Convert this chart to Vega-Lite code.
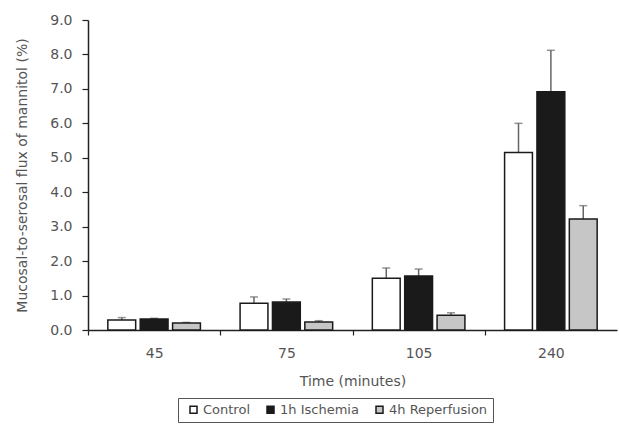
{
  "$schema": "https://vega.github.io/schema/vega-lite/v6.json",
  "width": 529,
  "height": 310,
  "autosize": {"type": "none"},
  "padding": {"left": 88, "top": 20, "right": 2, "bottom": 94},
  "background": "white",
  "config": {
    "view": {"stroke": null},
    "font": "DejaVu Sans",
    "axis": {"labelColor": "#555", "titleColor": "#555", "domainColor": "#222", "tickColor": "#222", "domainWidth": 1.5, "tickWidth": 1.2, "labelFontSize": 14, "titleFontSize": 14, "titleFontWeight": "normal", "grid": false}
  },
  "data": {
    "values": [
      {"time": "45", "group": "Control", "value": 0.29, "upper": 0.36},
      {"time": "45", "group": "1h Ischemia", "value": 0.32, "upper": 0.34},
      {"time": "45", "group": "4h Reperfusion", "value": 0.2, "upper": 0.22},
      {"time": "75", "group": "Control", "value": 0.78, "upper": 0.96},
      {"time": "75", "group": "1h Ischemia", "value": 0.81, "upper": 0.9},
      {"time": "75", "group": "4h Reperfusion", "value": 0.23, "upper": 0.27},
      {"time": "105", "group": "Control", "value": 1.5, "upper": 1.8},
      {"time": "105", "group": "1h Ischemia", "value": 1.57, "upper": 1.77},
      {"time": "105", "group": "4h Reperfusion", "value": 0.43, "upper": 0.5},
      {"time": "240", "group": "Control", "value": 5.15, "upper": 6.0},
      {"time": "240", "group": "1h Ischemia", "value": 6.92, "upper": 8.12},
      {"time": "240", "group": "4h Reperfusion", "value": 3.22, "upper": 3.61}
    ]
  },
  "encoding": {
    "x": {
      "field": "time", "type": "nominal", "sort": ["45", "75", "105", "240"],
      "scale": {"paddingInner": 0.3, "paddingOuter": 0.15},
      "axis": {"title": "Time (minutes)", "labelAngle": 0, "tickOffset": -66.1, "labelOffset": 66.1, "labelPadding": 11, "tickSize": 5, "titleY": 44, "titleBaseline": "top"}
    },
    "xOffset": {"field": "group", "type": "nominal", "sort": ["Control", "1h Ischemia", "4h Reperfusion"], "scale": {"paddingInner": 0.14}}
  },
  "layer": [
    {
      "mark": {"type": "rule", "color": "#666", "strokeWidth": 1.5},
      "encoding": {
        "y": {
          "field": "value", "type": "quantitative",
          "scale": {"domain": [0, 9], "nice": false},
          "axis": {"title": "Mucosal-to-serosal flux of mannitol (%)", "values": [0, 1, 2, 3, 4, 5, 6, 7, 8, 9], "format": ".1f", "labelOverlap": false, "tickSize": 6, "labelPadding": 10, "titleX": -66, "titleBaseline": "middle"}
        },
        "y2": {"field": "upper"}
      }
    },
    {
      "mark": {"type": "tick", "color": "#666", "size": 8, "thickness": 1.5},
      "encoding": {
        "y": {
          "field": "upper", "type": "quantitative",
          "scale": {"domain": [0, 9], "nice": false},
          "axis": {"title": "Mucosal-to-serosal flux of mannitol (%)", "values": [0, 1, 2, 3, 4, 5, 6, 7, 8, 9], "format": ".1f", "labelOverlap": false, "tickSize": 6, "labelPadding": 10, "titleX": -66, "titleBaseline": "middle"}
        }
      }
    },
    {
      "mark": {"type": "bar", "stroke": "#1a1a1a", "strokeWidth": 1.5},
      "encoding": {
        "y": {
          "field": "value", "type": "quantitative",
          "scale": {"domain": [0, 9], "nice": false},
          "axis": {"title": "Mucosal-to-serosal flux of mannitol (%)", "values": [0, 1, 2, 3, 4, 5, 6, 7, 8, 9], "format": ".1f", "labelOverlap": false, "tickSize": 6, "labelPadding": 10, "titleX": -66, "titleBaseline": "middle"}
        },
        "color": {
          "field": "group", "type": "nominal",
          "scale": {"domain": ["Control", "1h Ischemia", "4h Reperfusion"], "range": ["#ffffff", "#1a1a1a", "#c6c6c6"]},
          "legend": {
            "title": null, "orient": "none", "direction": "horizontal", "legendX": 90, "legendY": 378,
            "symbolType": "square", "symbolSize": 49, "symbolStrokeColor": "#1a1a1a", "symbolStrokeWidth": 1.5,
            "labelFont": "DejaVu Sans", "labelFontSize": 13, "labelColor": "#555", "columnPadding": 10, "symbolOffset": 4, "labelOffset": 3,
            "strokeColor": "#555", "padding": 5, "fillColor": "white"
          }
        }
      }
    }
  ]
}
